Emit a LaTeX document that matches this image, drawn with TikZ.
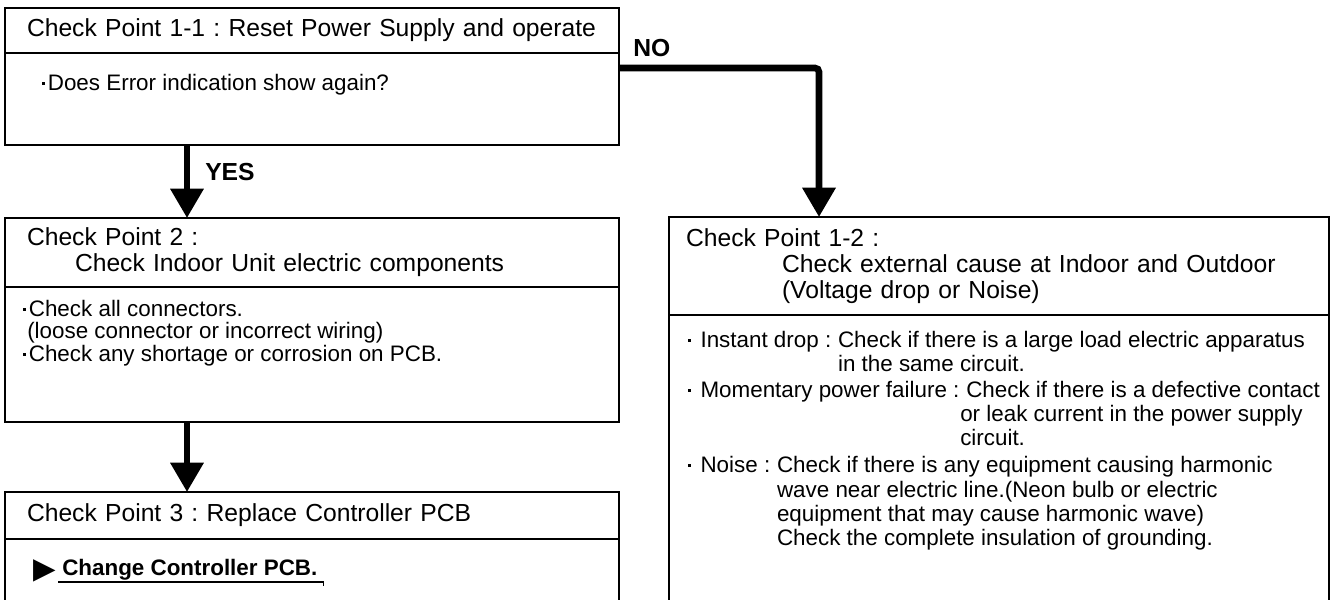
\documentclass[tikz,border=0pt]{standalone}
\usepackage{fontspec}
\setmainfont{Liberation Sans}
\newfontfamily\symfont{DejaVu Sans}
\usetikzlibrary{arrows.meta, calc}

\newcommand{\hdrfont}{\fontsize{18.5pt}{19.5pt}\selectfont\frenchspacing}
\newcommand{\txtfont}{\fontsize{16.8pt}{20pt}\selectfont\frenchspacing}
\newcommand{\bul}[1][1.5pt]{\rule[0.26em]{2.2pt}{2.2pt}\hspace{#1}}

\begin{document}
\begin{tikzpicture}[x=0.75pt, y=-0.75pt,
  >={Triangle[width=24pt, length=22pt]},
  box/.style={draw, line width=1pt, anchor=north west, inner sep=0pt, outer sep=0pt},
  hdr/.style={box, align=left, font=\hdrfont, inner xsep=16.5pt},
  divider/.style={line width=1.6pt},
  bodytxt/.style={anchor=west, inner sep=0pt, font=\txtfont, text height=15pt, text depth=3.6pt},
  answer/.style={anchor=west, inner sep=0pt, font=\hdrfont\bfseries},
  bigarrow/.style={->, line width=5pt, rounded corners=3pt}]

\useasboundingbox (0,0) rectangle (1333,599);

% Check Point 1-1
\node[hdr, text width=427.5pt, minimum height=33.75pt] (cp11head) at (5,8)
  {Check Point 1-1 : Reset Power Supply and operate};
\node[box, minimum width=460.5pt, minimum height=69pt] (cp11body) at (cp11head.south west) {};
\draw[divider] (cp11head.south west) -- (cp11head.south east);
\node[bodytxt] (q1) at (42,83) {\bul[2pt]Does Error indication show again?};

% Check Point 2
\node[hdr, text width=427.5pt, minimum height=51.75pt] (cp2head) at (5,218)
  {Check Point 2 :\\ \hspace*{36pt}Check Indoor Unit electric components};
\node[box, minimum width=460.5pt, minimum height=101.25pt] (cp2body) at (cp2head.south west) {};
\draw[divider] (cp2head.south west) -- (cp2head.south east);
\node[bodytxt] (c1) at (23,309) {\bul[2pt]Check all connectors.};
\node[bodytxt] (c2) at (27,331) {(loose connector or incorrect wiring)};
\node[bodytxt] (c3) at (23,354) {\bul[2pt]Check any shortage or corrosion on PCB.};

% Check Point 3
\node[hdr, text width=427.5pt, minimum height=35.25pt] (cp3head) at (5,492)
  {Check Point 3 : Replace Controller PCB};
\node[box, minimum width=460.5pt, minimum height=53.25pt] (cp3body) at (cp3head.south west) {};
\draw[divider] (cp3head.south west) -- (cp3head.south east);
\node[anchor=west, inner sep=0pt, font=\symfont\fontsize{22pt}{22pt}\selectfont] (tri) at (33,571) {▶};
\node[anchor=west, inner sep=0pt, font=\txtfont\bfseries] (chg) at (62,570) {Change Controller PCB.};
\draw[line width=1.2pt] ($(chg.south west)+(-4,1)$) -- ($(chg.south east)+(6,1)$) -- ++(0,4);

% Check Point 1-2
\node[hdr, inner xsep=12.75pt, text width=469.5pt, minimum height=73.5pt] (cp12head) at (669,217)
  {Check Point 1-2 :\\ \hspace*{72pt}Check external cause at Indoor and Outdoor\\
   \hspace*{72pt}(Voltage drop or Noise)};
\node[box, minimum width=495pt, minimum height=221.25pt] (cp12body) at (cp12head.south west) {};
\draw[divider] (cp12head.south west) -- (cp12head.south east);

\node[bodytxt] (d1) at (688,340) {\bul[7pt]Instant drop :~\mbox{}};
\node[bodytxt] (d1b) at (d1.east) {Check if there is a large load electric apparatus};
\node[bodytxt] (d2) at ($(d1b.west)+(0,24)$) {in the same circuit.};

\node[bodytxt] (m1) at (688,390) {\bul[7pt]Momentary power failure :~\mbox{}};
\node[bodytxt] (m1b) at (m1.east) {Check if there is a defective contact};
\node[bodytxt] (m2) at ($(m1b.west)+(-6,24)$) {or leak current in the power supply};
\node[bodytxt] (m3) at ($(m1b.west)+(-6,48)$) {circuit.};

\node[bodytxt] (n1) at (688,465) {\bul[7pt]Noise :~\mbox{}};
\node[bodytxt] (n1b) at (n1.east) {Check if there is any equipment causing harmonic};
\node[bodytxt] (n2) at ($(n1b.west)+(0,25)$) {wave near electric line.(Neon bulb or electric};
\node[bodytxt] (n3) at ($(n1b.west)+(0,49)$) {equipment that may cause harmonic wave)};
\node[bodytxt] (n4) at ($(n1b.west)+(0,73)$) {Check the complete insulation of grounding.};

% Arrows
\coordinate (yesx) at (187,0);
\coordinate (nocorner) at (819,68);
\draw[bigarrow] (cp11body.south -| yesx) -- (cp2head.north -| yesx);
\node[answer] (yes) at (205,172) {YES};
\draw[bigarrow] (cp2body.south -| yesx) -- (cp3head.north -| yesx);
\draw[bigarrow] (cp11body.east |- nocorner) -- (nocorner) -- (cp12head.north -| nocorner);
\node[answer] (no) at (633,48) {NO};

\end{tikzpicture}
\end{document}
